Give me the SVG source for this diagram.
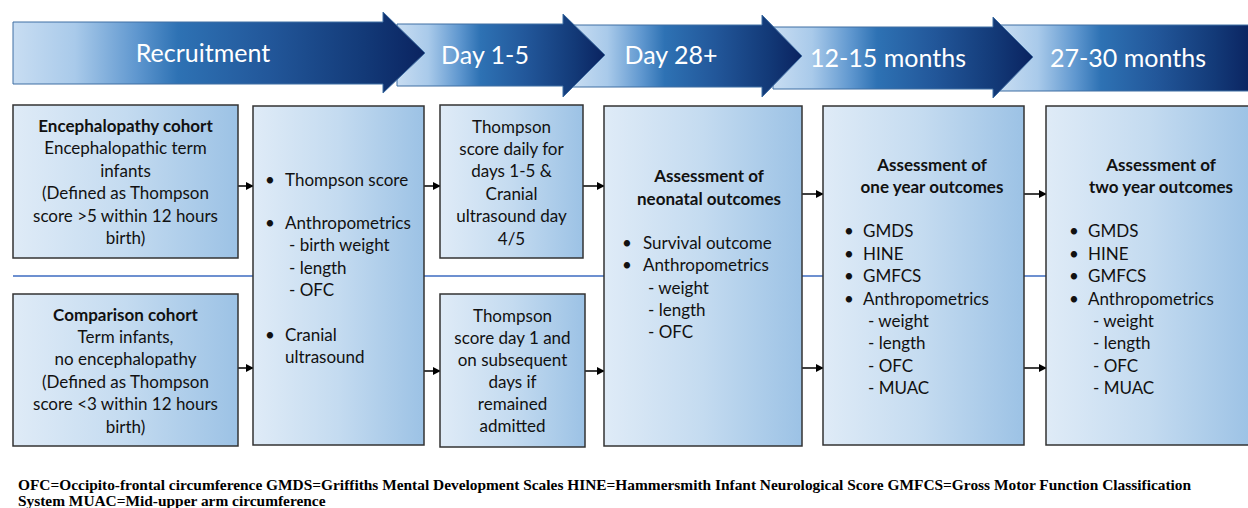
<svg xmlns="http://www.w3.org/2000/svg" width="1248" height="508" viewBox="0 0 1248 508">
<defs>
<linearGradient id="bannerGrad" x1="0" y1="0" x2="1" y2="0">
<stop offset="0" stop-color="#c8ddf2"/>
<stop offset="0.15" stop-color="#a9caea"/>
<stop offset="0.3" stop-color="#5f97cf"/>
<stop offset="0.4" stop-color="#2e72b4"/>
<stop offset="0.62" stop-color="#22579a"/>
<stop offset="0.85" stop-color="#133a78"/>
<stop offset="1" stop-color="#0a2360"/>
</linearGradient>
<linearGradient id="boxGrad" x1="0" y1="0" x2="1" y2="0">
<stop offset="0" stop-color="#dfebf7"/>
<stop offset="0.5" stop-color="#c4dbf0"/>
<stop offset="1" stop-color="#9cc2e5"/>
</linearGradient>
<marker id="arr" viewBox="0 0 10 10" refX="9" refY="5" markerWidth="8" markerHeight="8" markerUnits="userSpaceOnUse" orient="auto">
<path d="M0,0 L10,5 L0,10 z" fill="#000"/>
</marker>
</defs>
<style>
.banner{fill:url(#bannerGrad);stroke:#3f6ea3;stroke-width:1}
.btxt{font-family:Lato,"Liberation Sans",sans-serif;font-size:25px;fill:#ffffff;text-anchor:middle}
.box{fill:url(#boxGrad);stroke:#333333;stroke-width:1.5}
.t{font-family:Lato,"Liberation Sans",sans-serif;font-size:17px;fill:#111111}
.c{text-anchor:middle}
.b{font-weight:bold}
.conn{stroke:#000;stroke-width:1.5;fill:none;marker-end:url(#arr)}
.foot{font-family:"Liberation Serif",serif;font-weight:bold;font-size:15.4px;fill:#000}
</style>
<rect width="1248" height="508" fill="#ffffff"/>

<g id="banner">
<g id="stage-27-30">
<path class="banner" d="M1000,25 H1252 V91 H1000 Z"/>
<text class="btxt" x="1128" y="67">27-30 months</text>
</g>
<g id="stage-12-15">
<path class="banner" d="M773,27 H993 V17 L1033,57 L993,98 V89 H773 Z"/>
<text class="btxt" x="888" y="67">12-15 months</text>
</g>
<g id="stage-day28">
<path class="banner" d="M573,25 H762 V15 L802,56 L762,97 V87 H573 Z"/>
<text class="btxt" x="671" y="64">Day 28+</text>
</g>
<g id="stage-day1-5">
<path class="banner" d="M397,24 H563 V14 L605,55 L563,97 V86 H397 Z"/>
<text class="btxt" x="485" y="64">Day 1-5</text>
</g>
<g id="stage-recruitment">
<path class="banner" d="M13,22 H383 V12 L425,53 L383,93 V84 H13 Z"/>
<text class="btxt" x="203" y="62">Recruitment</text>
</g>
</g>

<line x1="13" y1="276" x2="1248" y2="276" stroke="#3c6bc0" stroke-width="1.3"/>

<g id="connectors">
<line class="conn" x1="238" y1="186" x2="253" y2="186"/>
<line class="conn" x1="238" y1="368" x2="253" y2="368"/>
<line class="conn" x1="424" y1="186" x2="440" y2="186"/>
<line class="conn" x1="424" y1="371" x2="440" y2="371"/>
<line class="conn" x1="583" y1="186" x2="604" y2="186"/>
<line class="conn" x1="585" y1="371" x2="604" y2="371"/>
<line class="conn" x1="802" y1="194" x2="823" y2="194"/>
<line class="conn" x1="802" y1="368" x2="823" y2="368"/>
<line class="conn" x1="1024" y1="194" x2="1046" y2="194"/>
<line class="conn" x1="1024" y1="368" x2="1046" y2="368"/>
</g>

<g id="encephalopathy-cohort">
<rect class="box" x="13" y="105" width="225" height="153"/>
<text class="t c b" x="125.5" y="132">Encephalopathy cohort</text>
<text class="t c" x="125.5" y="154.4">Encephalopathic term</text>
<text class="t c" x="125.5" y="176.8">infants</text>
<text class="t c" x="125.5" y="199.2">(Defined as Thompson</text>
<text class="t c" x="125.5" y="221.6">score &gt;5 within 12 hours</text>
<text class="t c" x="125.5" y="244">birth)</text>
</g>

<g id="comparison-cohort">
<rect class="box" x="13" y="294" width="225" height="152"/>
<text class="t c b" x="125.5" y="320.5">Comparison cohort</text>
<text class="t c" x="125.5" y="342.9">Term infants,</text>
<text class="t c" x="125.5" y="365.3">no encephalopathy</text>
<text class="t c" x="125.5" y="387.7">(Defined as Thompson</text>
<text class="t c" x="125.5" y="410.1">score &lt;3 within 12 hours</text>
<text class="t c" x="125.5" y="432.5">birth)</text>
</g>

<g id="recruitment-assessments">
<rect class="box" x="253" y="106" width="171" height="339"/>
<text class="t" x="265" y="185.5">•</text>
<text class="t" x="285" y="185.5">Thompson score</text>
<text class="t" x="265" y="228.7">•</text>
<text class="t" x="285" y="228.7">Anthropometrics</text>
<text class="t" x="289" y="251.2">- birth weight</text>
<text class="t" x="289" y="273.8">- length</text>
<text class="t" x="289" y="296.4">- OFC</text>
<text class="t" x="265" y="340.5">•</text>
<text class="t" x="285" y="340.5">Cranial</text>
<text class="t" x="285" y="362.5">ultrasound</text>
</g>

<g id="day1-5-encephalopathy">
<rect class="box" x="440" y="105" width="143" height="153"/>
<text class="t c" x="511.5" y="132.5">Thompson</text>
<text class="t c" x="511.5" y="154.9">score daily for</text>
<text class="t c" x="511.5" y="177.3">days 1-5 &amp;</text>
<text class="t c" x="511.5" y="199.7">Cranial</text>
<text class="t c" x="511.5" y="222.1">ultrasound day</text>
<text class="t c" x="511.5" y="244.5">4/5</text>
</g>

<g id="day1-5-comparison">
<rect class="box" x="440" y="294" width="145" height="153"/>
<text class="t c" x="512.5" y="321.7">Thompson</text>
<text class="t c" x="512.5" y="343.7">score day 1 and</text>
<text class="t c" x="512.5" y="365.7">on subsequent</text>
<text class="t c" x="512.5" y="387.7">days if</text>
<text class="t c" x="512.5" y="409.7">remained</text>
<text class="t c" x="512.5" y="431.7">admitted</text>
</g>

<g id="neonatal-outcomes">
<rect class="box" x="604" y="106" width="198" height="340"/>
<text class="t c b" x="709" y="182.3">Assessment of</text>
<text class="t c b" x="709" y="204.5">neonatal outcomes</text>
<text class="t" x="622" y="248.8">•</text>
<text class="t" x="643" y="248.8">Survival outcome</text>
<text class="t" x="622" y="271.2">•</text>
<text class="t" x="643" y="271.2">Anthropometrics</text>
<text class="t" x="648" y="293.6">- weight</text>
<text class="t" x="648" y="316">- length</text>
<text class="t" x="648" y="338.4">- OFC</text>
</g>

<g id="one-year-outcomes">
<rect class="box" x="823" y="106" width="201" height="339"/>
<text class="t c b" x="932" y="171">Assessment of</text>
<text class="t c b" x="932" y="192.6">one year outcomes</text>
<text class="t" x="844" y="237.3">•</text>
<text class="t" x="863" y="237.3">GMDS</text>
<text class="t" x="844" y="259.7">•</text>
<text class="t" x="863" y="259.7">HINE</text>
<text class="t" x="844" y="282.1">•</text>
<text class="t" x="863" y="282.1">GMFCS</text>
<text class="t" x="844" y="304.5">•</text>
<text class="t" x="863" y="304.5">Anthropometrics</text>
<text class="t" x="868" y="326.9">- weight</text>
<text class="t" x="868" y="349.3">- length</text>
<text class="t" x="868" y="371.7">- OFC</text>
<text class="t" x="868" y="394.1">- MUAC</text>
</g>

<g id="two-year-outcomes">
<rect class="box" x="1046" y="106" width="206" height="339"/>
<text class="t c b" x="1161" y="171">Assessment of</text>
<text class="t c b" x="1161" y="192.6">two year outcomes</text>
<text class="t" x="1069" y="237.3">•</text>
<text class="t" x="1088" y="237.3">GMDS</text>
<text class="t" x="1069" y="259.7">•</text>
<text class="t" x="1088" y="259.7">HINE</text>
<text class="t" x="1069" y="282.1">•</text>
<text class="t" x="1088" y="282.1">GMFCS</text>
<text class="t" x="1069" y="304.5">•</text>
<text class="t" x="1088" y="304.5">Anthropometrics</text>
<text class="t" x="1093" y="326.9">- weight</text>
<text class="t" x="1093" y="349.3">- length</text>
<text class="t" x="1093" y="371.7">- OFC</text>
<text class="t" x="1093" y="394.1">- MUAC</text>
</g>

<g id="footnote">
<text class="foot" x="18" y="490">OFC=Occipito-frontal circumference GMDS=Griffiths Mental Development Scales HINE=Hammersmith Infant Neurological Score GMFCS=Gross Motor Function Classification</text>
<text class="foot" x="18" y="506">System MUAC=Mid-upper arm circumference</text>
</g>
</svg>
